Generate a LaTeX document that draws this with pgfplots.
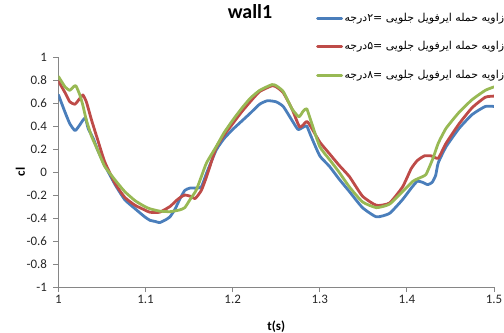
\documentclass[border=0pt]{standalone}
\usepackage{pgfplots}
\pgfplotsset{compat=1.18}
\usepackage{fontspec}
\setmainfont{Carlito}
\newfontfamily\arabicfont[Script=Arabic]{DejaVu Sans}
\TeXXeTstate=1
\definecolor{cblue}{HTML}{4A7EBB}
\definecolor{cred}{HTML}{BE4B48}
\definecolor{cgreen}{HTML}{98B954}
\definecolor{axgray}{HTML}{868686}
\begin{document}
\begin{tikzpicture}
\useasboundingbox (-58.5bp,-46bp) rectangle (445.5bp,287bp);
\begin{axis}[
  scale only axis, width=435.5bp, height=230bp,
  xmin=1, xmax=1.5, ymin=-1, ymax=1,
  axis x line=bottom, axis y line=left,
  axis line style={axgray, line width=0.8bp, -},
  xtick={1,1.1,1.2,1.3,1.4,1.5},
  ytick={-1,-0.8,-0.6,-0.4,-0.2,0,0.2,0.4,0.6,0.8,1},
  tick style={axgray, line width=0.8bp}, tick align=outside, major tick length=5bp,
  /pgf/number format/assume math mode=true,
  ticklabel style={font=\fontsize{13}{15}\selectfont, text=black!85},
  yticklabel style={xshift=-3bp},
  xlabel={\textbf{t(s)}}, ylabel={\textbf{cl}},
  label style={font=\fontsize{13}{15}\selectfont},
  xlabel style={at={(axis description cs:0.5,-0.174)}, anchor=center},
  ylabel style={at={(axis description cs:-0.0873,0.5)}, anchor=center},
  title={\textbf{wall1}},
  title style={at={(axis description cs:0.4397,1.1696)}, anchor=center, font=\fontsize{20}{24}\selectfont},
  legend style={at={(axis description cs:0.5913,1.1957)}, anchor=north west, draw=none, fill=none,
    inner sep=0pt, row sep=16.5bp,
    nodes={inner sep=0pt, inner xsep=1.5bp, text height=9bp, text depth=3bp, anchor=west},
    font=\fontsize{11}{13}\selectfont},
  legend cell align=left,
  legend image code/.code={\draw[#1] (0bp,0bp) -- (24bp,0bp);},
  every axis plot/.append style={line width=2.8bp, line join=round, line cap=round, smooth, tension=0.3},
]
\addplot[cblue] coordinates {
(1.000,0.67) (1.0075,0.52) (1.013,0.42) (1.019,0.36) (1.0245,0.41) (1.028,0.45) (1.031,0.47)
(1.034,0.38) (1.040,0.29) (1.045,0.19) (1.053,0.06) (1.065,-0.11) (1.076,-0.24) (1.088,-0.32)
(1.099,-0.39) (1.105,-0.42) (1.111,-0.43) (1.116,-0.44) (1.122,-0.42) (1.128,-0.39) (1.134,-0.32)
(1.139,-0.24) (1.145,-0.16) (1.151,-0.14) (1.158,-0.14) (1.164,-0.13) (1.170,-0.01) (1.181,0.19)
(1.190,0.29) (1.200,0.37) (1.210,0.44) (1.220,0.51) (1.231,0.59) (1.240,0.62) (1.250,0.61)
(1.258,0.57) (1.268,0.45) (1.275,0.37) (1.281,0.39) (1.285,0.40) (1.290,0.31) (1.300,0.14)
(1.311,0.05) (1.322,-0.06) (1.334,-0.17) (1.349,-0.31) (1.365,-0.39) (1.380,-0.36) (1.395,-0.24)
(1.405,-0.14) (1.412,-0.08) (1.418,-0.09) (1.424,-0.11) (1.429,-0.09) (1.433,-0.03) (1.436,0.08)
(1.445,0.22) (1.460,0.38) (1.475,0.50) (1.490,0.57) (1.500,0.57)
};
\addlegendentry{\arabicfont\beginR زاویه حمله ایرفویل جلویی =۲درجه\endR}
\addplot[cred] coordinates {
(1.000,0.79) (1.0075,0.69) (1.013,0.61) (1.019,0.59) (1.0245,0.64) (1.028,0.67) (1.032,0.61)
(1.038,0.45) (1.045,0.28) (1.053,0.09) (1.065,-0.10) (1.076,-0.22) (1.088,-0.29) (1.099,-0.33)
(1.105,-0.35) (1.116,-0.35) (1.128,-0.30) (1.135,-0.25) (1.140,-0.22) (1.145,-0.20) (1.151,-0.21)
(1.157,-0.23) (1.164,-0.16) (1.170,-0.04) (1.181,0.21) (1.190,0.32) (1.200,0.42) (1.210,0.52)
(1.220,0.61) (1.231,0.70) (1.245,0.75) (1.250,0.74) (1.258,0.69) (1.268,0.55) (1.277,0.39)
(1.285,0.44) (1.290,0.39) (1.300,0.26) (1.311,0.16) (1.322,0.06) (1.334,-0.04) (1.349,-0.21)
(1.365,-0.29) (1.380,-0.27) (1.395,-0.13) (1.405,0.03) (1.412,0.10) (1.420,0.14) (1.428,0.14)
(1.436,0.12) (1.445,0.25) (1.460,0.42) (1.475,0.56) (1.490,0.65) (1.500,0.66)
};
\addlegendentry{\arabicfont\beginR زاویه حمله ایرفویل جلویی =۵درجه\endR}
\addplot[cgreen] coordinates {
(1.000,0.83) (1.0075,0.74) (1.013,0.71) (1.017,0.74) (1.020,0.75) (1.0245,0.67) (1.028,0.58)
(1.032,0.45) (1.038,0.31) (1.045,0.19) (1.053,0.05) (1.065,-0.07) (1.076,-0.17) (1.088,-0.25)
(1.099,-0.30) (1.105,-0.32) (1.116,-0.34) (1.128,-0.345) (1.139,-0.33) (1.145,-0.31) (1.151,-0.24)
(1.158,-0.16) (1.164,-0.04) (1.170,0.08) (1.181,0.22) (1.190,0.34) (1.200,0.45) (1.210,0.55)
(1.220,0.64) (1.231,0.71) (1.245,0.76) (1.250,0.75) (1.258,0.70) (1.268,0.55) (1.276,0.48)
(1.281,0.53) (1.285,0.55) (1.290,0.44) (1.300,0.22) (1.311,0.11) (1.322,0.00) (1.334,-0.13)
(1.349,-0.26) (1.365,-0.31) (1.380,-0.28) (1.395,-0.17) (1.407,-0.08) (1.415,-0.05) (1.422,-0.02)
(1.430,0.12) (1.436,0.25) (1.445,0.38) (1.460,0.52) (1.475,0.63) (1.490,0.71) (1.500,0.74)
};
\addlegendentry{\arabicfont\beginR زاویه حمله ایرفویل جلویی =۸درجه\endR}
\end{axis}
\end{tikzpicture}
\end{document}
